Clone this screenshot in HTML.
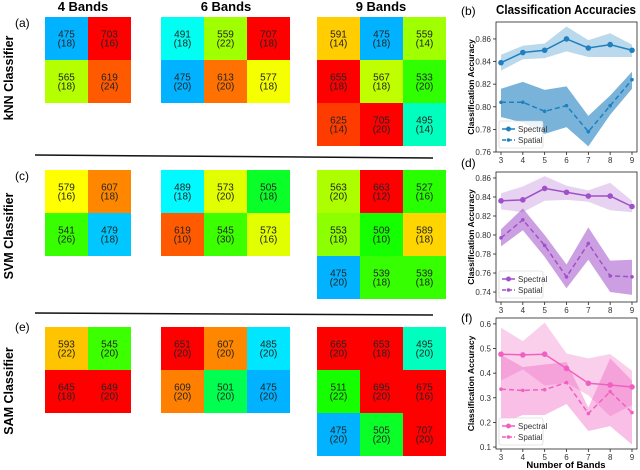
<!DOCTYPE html>
<html><head><meta charset="utf-8"><style>
body{margin:0;background:#fff;}
svg{display:block;font-family:"Liberation Sans",sans-serif;}
</style></head><body>
<svg id="fig" width="640" height="470" viewBox="0 0 640 470"></svg>
<script>
// ---- grid data ----
const knn4=[[475,18,703,16],[565,18,619,24]];
const knn6=[[491,18,559,22,707,18],[475,20,613,20,577,18]];
const knn9=[[591,14,475,18,559,14],[655,18,567,18,533,20],[625,14,705,20,495,14]];
const svm4=[[579,16,607,18],[541,26,479,18]];
const svm6=[[489,18,573,20,505,18],[619,10,545,30,573,16]];
const svm9=[[563,20,663,12,527,16],[553,18,509,10,589,18],[475,20,539,18,539,18]];
const sam4=[[593,22,545,20],[645,18,649,20]];
const sam6=[[651,20,607,20,485,20],[609,20,501,20,475,20]];
const sam9=[[665,20,653,18,495,20],[511,22,695,20,675,16],[475,20,505,20,707,20]];
// ---- chart data ----
const bands=[3,4,5,6,7,8,9];
const bSpec=[0.839,0.848,0.850,0.860,0.852,0.855,0.850];
const bSpecLo=[0.832,0.842,0.843,0.849,0.844,0.844,0.844];
const bSpecHi=[0.846,0.854,0.856,0.871,0.859,0.865,0.855];
const bSpat=[0.804,0.804,0.796,0.801,0.778,0.801,0.824];
const bSpatLo=[0.791,0.786,0.776,0.782,0.765,0.793,0.816];
const bSpatHi=[0.816,0.822,0.815,0.818,0.792,0.810,0.831];
const bTicks=[0.76,0.78,0.80,0.82,0.84,0.86];
const dSpec=[0.836,0.837,0.849,0.845,0.841,0.841,0.830];
const dSpecLo=[0.827,0.824,0.836,0.837,0.835,0.826,0.824];
const dSpecHi=[0.844,0.851,0.862,0.852,0.847,0.855,0.836];
const dSpat=[0.797,0.816,0.789,0.756,0.791,0.757,0.756];
const dSpatLo=[0.788,0.805,0.777,0.744,0.774,0.740,0.737];
const dSpatHi=[0.806,0.828,0.800,0.769,0.808,0.773,0.774];
const dTicks=[0.74,0.76,0.78,0.80,0.82,0.84,0.86];
const fSpec=[0.477,0.474,0.477,0.419,0.359,0.352,0.344];
const fSpecLo=[0.370,0.415,0.350,0.360,0.310,0.225,0.270];
const fSpecHi=[0.585,0.530,0.605,0.480,0.460,0.478,0.410];
const fSpat=[0.335,0.330,0.333,0.362,0.236,0.325,0.240];
const fSpatLo=[0.195,0.230,0.230,0.275,0.165,0.185,0.110];
const fSpatHi=[0.475,0.425,0.435,0.445,0.260,0.460,0.370];
const fTicks=[0.1,0.2,0.3,0.4,0.5,0.6];

const NS='http://www.w3.org/2000/svg';
const svg=document.getElementById('fig');
function mk(tag,attrs,parent,text){const e=document.createElementNS(NS,tag);for(const k in attrs)e.setAttribute(k,attrs[k]);if(text!==undefined)e.textContent=text;(parent||svg).appendChild(e);return e;}

const stops=[[470,[0,150,255]],[475,[0,178,255]],[485,[0,230,255]],[490,[0,255,255]],[495,[0,255,190]],[501,[0,255,80]],[509,[20,255,0]],[545,[60,255,0]],[553,[140,255,0]],[565,[180,255,0]],[573,[225,255,0]],[579,[255,255,0]],[591,[255,205,0]],[607,[255,135,0]],[619,[255,90,0]],[625,[255,60,0]],[645,[255,0,0]],[720,[255,0,0]]];
function wlColor(w){for(let i=0;i<stops.length-1;i++){const [a,ca]=stops[i],[b,cb]=stops[i+1];if(w>=a&&w<=b){const t=(w-a)/(b-a);return 'rgb('+ca.map((v,j)=>Math.round(v+(cb[j]-v)*t)).join(',')+')';}}return 'red';}

function grid(data,x0,y0,name){
  const g=mk('g',{});
  
  
  const cs=43;
  data.forEach((row,r)=>{for(let c=0;c<row.length/2;c++){
    const w=row[2*c],n=row[2*c+1];
    const x=x0+c*cs,y=y0+r*cs;
    const rc=mk('rect',{x:x,y:y,width:cs,height:cs,fill:wlColor(w)},g);
    
    
    mk('text',{x:x+cs/2,y:y+cs/2-1,'text-anchor':'middle','font-size':10,fill:'#222'},g,String(w));
    mk('text',{x:x+cs/2,y:y+cs/2+8,'text-anchor':'middle','font-size':10,fill:'#222'},g,'('+n+')');
  }});
}
grid(knn4,45,17,'knn-4-bands');grid(knn6,161,17,'knn-6-bands');grid(knn9,317,17,'knn-9-bands');
grid(svm4,45,170,'svm-4-bands');grid(svm6,161,170,'svm-6-bands');grid(svm9,317,170,'svm-9-bands');
grid(sam4,45,327,'sam-4-bands');grid(sam6,161,327,'sam-6-bands');grid(sam9,317,327,'sam-9-bands');

[['4 Bands',83],['6 Bands',226],['9 Bands',381]].forEach(([t,x])=>{const e=mk('text',{x:x,y:11,'text-anchor':'middle','font-size':13,'font-weight':'bold'},svg,t);});
[['kNN Classifier',78],['SVM Classifier',236],['SAM Classifier',391]].forEach(([t,y])=>{const e=mk('text',{x:0,y:0,transform:'translate(13,'+y+') rotate(-90)','text-anchor':'middle','font-size':12.5,'font-weight':'bold'},svg,t);});
[['(a)',15,27],['(c)',15,180],['(e)',15,331],['(b)',461,15],['(d)',461,167],['(f)',461,322]].forEach(([t,x,y])=>{const e=mk('text',{x:x,y:y,'font-size':12},svg,t);});
mk('line',{x1:35,y1:155,x2:433,y2:158,stroke:'#111','stroke-width':1.5});
mk('line',{x1:35,y1:313,x2:433,y2:315,stroke:'#111','stroke-width':1.5});
const tt=mk('text',{x:496,y:14,'font-size':12.5,'font-weight':'bold',textLength:140,lengthAdjust:'spacingAndGlyphs'},svg,'Classification Accuracies');


function chart(name,top,bot,vTop,vBot,ticks,spec,sLo,sHi,spat,pLo,pHi,color,alphaS,alphaP,fmt){
  const L=496,R=637;
  const g=mk('g',{});
  
  
  const xs=b=>501+(b-3)*(632-501)/6;
  const ys=v=>top+(vTop-v)*(bot-top)/(vTop-vBot);
  const area=(lo,hi)=>bands.map((b,i)=>xs(b)+','+ys(hi[i])).join(' ')+' '+bands.slice().reverse().map((b,j)=>{const i=bands.length-1-j;return xs(b)+','+ys(lo[i]);}).join(' ');
  const a1=mk('polygon',{points:area(sLo,sHi),fill:color,'fill-opacity':alphaS},g);
  
  const a2=mk('polygon',{points:area(pLo,pHi),fill:color,'fill-opacity':alphaP},g);
  
  const l1=mk('polyline',{points:bands.map((b,i)=>xs(b)+','+ys(spec[i])).join(' '),fill:'none',stroke:color,'stroke-width':1.5},g);
  
  const l2=mk('polyline',{points:bands.map((b,i)=>xs(b)+','+ys(spat[i])).join(' '),fill:'none',stroke:color,'stroke-width':1.5,'stroke-dasharray':'5,3'},g);
  
  bands.forEach((b,i)=>{
    const p=mk('circle',{cx:xs(b),cy:ys(spec[i]),r:2.8,fill:color},g);
    
    const q=mk('circle',{cx:xs(b),cy:ys(spat[i]),r:1.8,fill:color},g);
    
  });
  mk('rect',{x:L,y:top,width:R-L,height:bot-top,fill:'none',stroke:'#222','stroke-width':0.8},g);
  ticks.forEach(t=>{const y=ys(t);mk('line',{x1:L-3,y1:y,x2:L,y2:y,stroke:'#222','stroke-width':0.8},g);
    mk('text',{x:L-5,y:y+3,'text-anchor':'end','font-size':8,fill:'#333'},g,fmt(t));});
  bands.forEach(b=>{mk('line',{x1:xs(b),y1:bot,x2:xs(b),y2:bot+3,stroke:'#222','stroke-width':0.8},g);
    mk('text',{x:xs(b),y:bot+11,'text-anchor':'middle','font-size':8,fill:'#333'},g,String(b));});
  const yl=mk('text',{x:0,y:0,transform:'translate(474,'+((top+bot)/2)+') rotate(-90)','text-anchor':'middle','font-size':8.5,'font-weight':'bold'},g,'Classification Accuracy');
  
  const lg=mk('g',{},g);
  
  mk('rect',{x:L+3,y:bot-31,width:44,height:27,fill:'#fff','fill-opacity':0.85,stroke:'#ccc','stroke-width':0.6,rx:2},lg);
  mk('line',{x1:L+6,y1:bot-23,x2:L+19,y2:bot-23,stroke:color,'stroke-width':1.5},lg);
  mk('circle',{cx:L+12.5,cy:bot-23,r:2.5,fill:color},lg);
  mk('text',{x:L+22,y:bot-20,'font-size':8,fill:'#333'},lg,'Spectral');
  mk('line',{x1:L+6,y1:bot-12,x2:L+19,y2:bot-12,stroke:color,'stroke-width':1.5,'stroke-dasharray':'4,2'},lg);
  mk('circle',{cx:L+12.5,cy:bot-12,r:1.8,fill:color},lg);
  mk('text',{x:L+22,y:bot-9,'font-size':8,fill:'#333'},lg,'Spatial');
}
chart('knn-accuracy-chart',22,152,0.875,0.76,bTicks,bSpec,bSpecLo,bSpecHi,bSpat,bSpatLo,bSpatHi,'#1f80c0',0.3,0.6,t=>t.toFixed(2));
chart('svm-accuracy-chart',172,302,0.8663,0.7295,dTicks,dSpec,dSpecLo,dSpecHi,dSpat,dSpatLo,dSpatHi,'#a050c8',0.25,0.55,t=>t.toFixed(2));
chart('sam-accuracy-chart',318,449,0.624,0.092,fTicks,fSpec,fSpecLo,fSpecHi,fSpat,fSpatLo,fSpatHi,'#f060c0',0.3,0.4,t=>t.toFixed(1));
const xl=mk('text',{x:566,y:468,'text-anchor':'middle','font-size':9.5,'font-weight':'bold'},svg,'Number of Bands');

</script>
</body></html>
